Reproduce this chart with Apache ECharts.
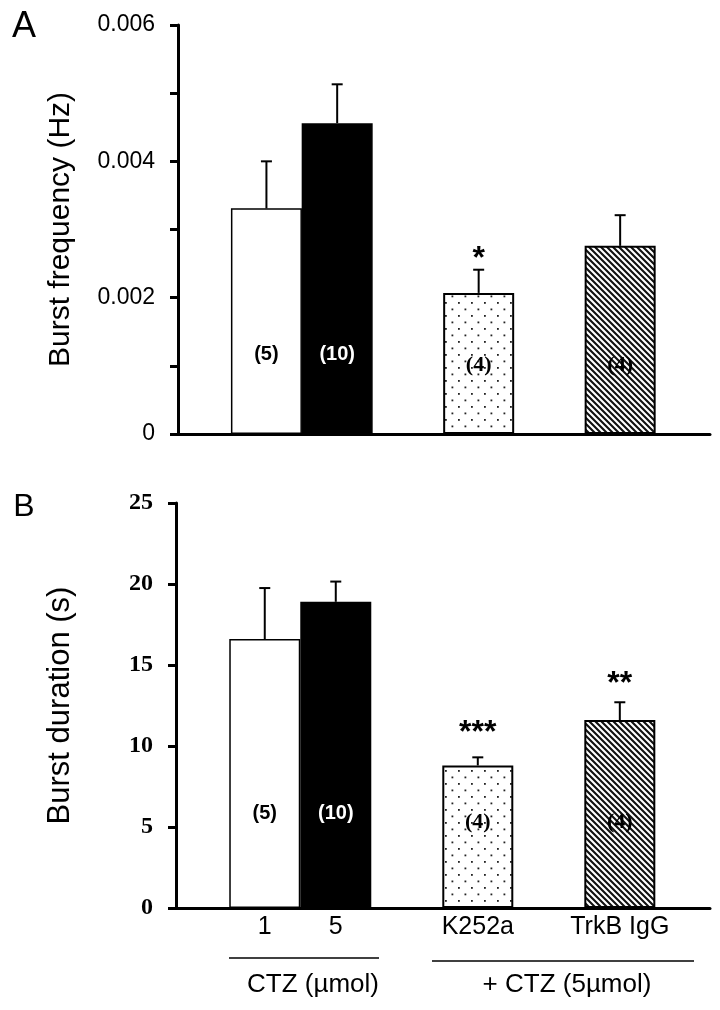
<!DOCTYPE html>
<html>
<head>
<meta charset="utf-8">
<script src="https://cdn.jsdelivr.net/npm/echarts@6/dist/echarts.min.js"></script>
<style>
  html, body { margin: 0; padding: 0; background: #fff; }
  #chart { width: 720px; height: 1010px; }
</style>
</head>
<body>
<div id="chart"></div>
<script>
// ---- data ----
const axisCategories = ['', '1', '5', '', 'K252a', '', 'TrkB IgG'];   // '' = spacer slot
const freqMean = [0.00331, 0.00456, 0.00207, 0.00276];
const freqSE   = [0.00069, 0.00057, 0.00034, 0.00045];
const durMean  = [16.6, 18.9, 8.8, 11.6];
const durSE    = [3.15, 1.25, 0.5, 1.1];
const nLabels  = ['(5)', '(10)', '(4)', '(4)'];
const freqSig  = ['', '', '*', ''];
const durSig   = ['', '', '***', '**'];
const freqTickLabels = ['0', '0.002', '0.004', '0.006'];
const durTickLabels  = ['0', '5', '10', '15', '20', '25'];
const groupLabels = ['CTZ (\u00b5mol)', '+ CTZ (5\u00b5mol)'];
const panelLabels = ['A', 'B'];

// ---- styles ----
const SANS = '"Liberation Sans", Arial, sans-serif';
const SERIF = '"Liberation Serif", "Times New Roman", serif';
const xPos = axisCategories.map((c, i) => c ? i : null).filter(v => v !== null);

function dotPattern() {
  const c = document.createElement('canvas');
  c.width = 13; c.height = 13;
  const g = c.getContext('2d');
  g.fillStyle = '#fff'; g.fillRect(0, 0, 13, 13);
  g.fillStyle = '#222';
  g.fillRect(3, 3, 1.8, 1.8);
  g.fillRect(9.5, 9.5, 1.8, 1.8);
  return c;
}
function hatchPattern() {
  const s = 6;
  const c = document.createElement('canvas');
  c.width = s; c.height = s;
  const g = c.getContext('2d');
  g.fillStyle = '#fff'; g.fillRect(0, 0, s, s);
  g.strokeStyle = '#111'; g.lineWidth = 2.1;
  g.beginPath();
  g.moveTo(-1, -1); g.lineTo(s + 1, s + 1);
  g.moveTo(-1, s - 1); g.lineTo(1, s + 1);
  g.moveTo(s - 1, -1); g.lineTo(s + 1, 1);
  g.stroke();
  return c;
}
const fills = [
  { color: '#fff', borderColor: '#000', borderWidth: 1.5 },
  { color: '#000', borderColor: '#000', borderWidth: 1.5 },
  { color: { image: dotPattern(), repeat: 'repeat' }, borderColor: '#000', borderWidth: 2 },
  { color: { image: hatchPattern(), repeat: 'repeat' }, borderColor: '#000', borderWidth: 2 }
];
const nLabelStyle = [
  { color: '#000', fontFamily: SANS, fontSize: 20 },
  { color: '#fff', fontFamily: SANS, fontSize: 20 },
  { color: '#000', fontFamily: SERIF, fontSize: 22 },
  { color: '#000', fontFamily: SERIF, fontSize: 22 }
];
const nDistA = [70, 70, 58, 58];
const nDistB = [85, 85, 75, 75];
const sigLiftA = [0, 0, 11, 0];
const sigLiftB = [0, 0, 24, 18];

function barData(means, dist) {
  return means.map((m, i) => ({
    value: [xPos[i], m],
    itemStyle: fills[i],
    label: Object.assign({
      show: true, position: 'insideBottom', distance: dist[i],
      fontWeight: 'bold', formatter: nLabels[i]
    }, nLabelStyle[i])
  }));
}
function errRender(sig, lift) {
  return function (params, api) {
    const x = api.value(0), m = api.value(1), e = api.value(2);
    const p0 = api.coord([x, m]);
    const p1 = api.coord([x, m + e]);
    const cap = 11;
    const children = [
      { type: 'line', shape: { x1: p0[0], y1: p0[1], x2: p1[0], y2: p1[1] }, style: { stroke: '#000', lineWidth: 2 } },
      { type: 'line', shape: { x1: p1[0] - cap / 2, y1: p1[1], x2: p1[0] + cap / 2, y2: p1[1] }, style: { stroke: '#000', lineWidth: 2 } }
    ];
    const s = sig[params.dataIndex];
    if (s) {
      children.push({
        type: 'text', x: p1[0], y: p1[1] - lift[params.dataIndex],
        style: { text: s, fill: '#000', font: 'bold 32px ' + SANS, align: 'center', verticalAlign: 'middle' }
      });
    }
    return { type: 'group', children };
  };
}
function yAxisBase(extra) {
  return Object.assign({
    type: 'value', min: 0,
    axisLine: { show: true, onZero: false, lineStyle: { color: '#000', width: 3 } },
    axisTick: { show: true, length: 8, lineStyle: { color: '#000', width: 3 } },
    splitLine: { show: false },
    nameLocation: 'middle'
  }, extra);
}

const chart = echarts.init(document.getElementById('chart'), null, { renderer: 'canvas' });
chart.setOption({
  animation: false,
  backgroundColor: '#fff',
  textStyle: { fontFamily: SANS },
  grid: [
    { left: 178, top: 25, width: 532, height: 409 },
    { left: 176, top: 503, width: 534, height: 405 }
  ],
  xAxis: [
    { gridIndex: 0, type: 'value', min: -0.25, max: 7.27,
      axisLine: { show: true, onZero: false, lineStyle: { color: '#000', width: 3 } },
      axisTick: { show: false }, axisLabel: { show: false }, splitLine: { show: false } },
    { gridIndex: 1, type: 'value', min: -0.25, max: 7.27,
      axisLine: { show: true, onZero: false, lineStyle: { color: '#000', width: 3 } },
      axisTick: { show: false }, splitLine: { show: false },
      axisLabel: { show: true, customValues: xPos, formatter: v => axisCategories[Math.round(v)] || '',
        color: '#000', fontSize: 25, fontFamily: SANS, margin: 7 } }
  ],
  yAxis: [
    yAxisBase({ gridIndex: 0, max: 0.006, interval: 0.001,
      axisLabel: { color: '#000', fontSize: 23, fontFamily: SANS, margin: 23,
        formatter: v => { const k = Math.round(v / 0.001); return k % 2 === 0 ? freqTickLabels[k / 2] : ''; } },
      name: 'Burst frequency (Hz)', nameGap: 102,
      nameTextStyle: { color: '#000', fontSize: 30, fontFamily: SANS } }),
    yAxisBase({ gridIndex: 1, max: 25, interval: 5,
      axisLabel: { color: '#000', fontSize: 24, fontWeight: 'bold', fontFamily: SERIF, margin: 23,
        formatter: v => durTickLabels[Math.round(v / 5)] },
      name: 'Burst duration (s)', nameGap: 100,
      nameTextStyle: { color: '#000', fontSize: 31, fontFamily: SANS } })
  ],
  series: [
    { type: 'bar', xAxisIndex: 0, yAxisIndex: 0, barWidth: 71, data: barData(freqMean, nDistA) },
    { type: 'custom', xAxisIndex: 0, yAxisIndex: 0, z: 5, renderItem: errRender(freqSig, sigLiftA),
      data: xPos.map((x, i) => [x, freqMean[i], freqSE[i]]) },
    { type: 'bar', xAxisIndex: 1, yAxisIndex: 1, barWidth: 71, data: barData(durMean, nDistB) },
    { type: 'custom', xAxisIndex: 1, yAxisIndex: 1, z: 5, renderItem: errRender(durSig, sigLiftB),
      data: xPos.map((x, i) => [x, durMean[i], durSE[i]]) }
  ],
  graphic: [
    { type: 'text', x: 24, y: 27, style: { text: panelLabels[0], font: '36px ' + SANS, fill: '#000', align: 'center', verticalAlign: 'middle' } },
    { type: 'text', x: 24, y: 507, style: { text: panelLabels[1], font: '32px ' + SANS, fill: '#000', align: 'center', verticalAlign: 'middle' } },
    { type: 'line', shape: { x1: 229, y1: 958, x2: 379, y2: 958 }, style: { stroke: '#000', lineWidth: 1.5 } },
    { type: 'line', shape: { x1: 432, y1: 961, x2: 694, y2: 961 }, style: { stroke: '#000', lineWidth: 1.5 } },
    { type: 'text', x: 313, y: 985, style: { text: groupLabels[0], font: '26px ' + SANS, fill: '#000', align: 'center', verticalAlign: 'middle' } },
    { type: 'text', x: 567, y: 985, style: { text: groupLabels[1], font: '26px ' + SANS, fill: '#000', align: 'center', verticalAlign: 'middle' } }
  ]
});
</script>
</body>
</html>
